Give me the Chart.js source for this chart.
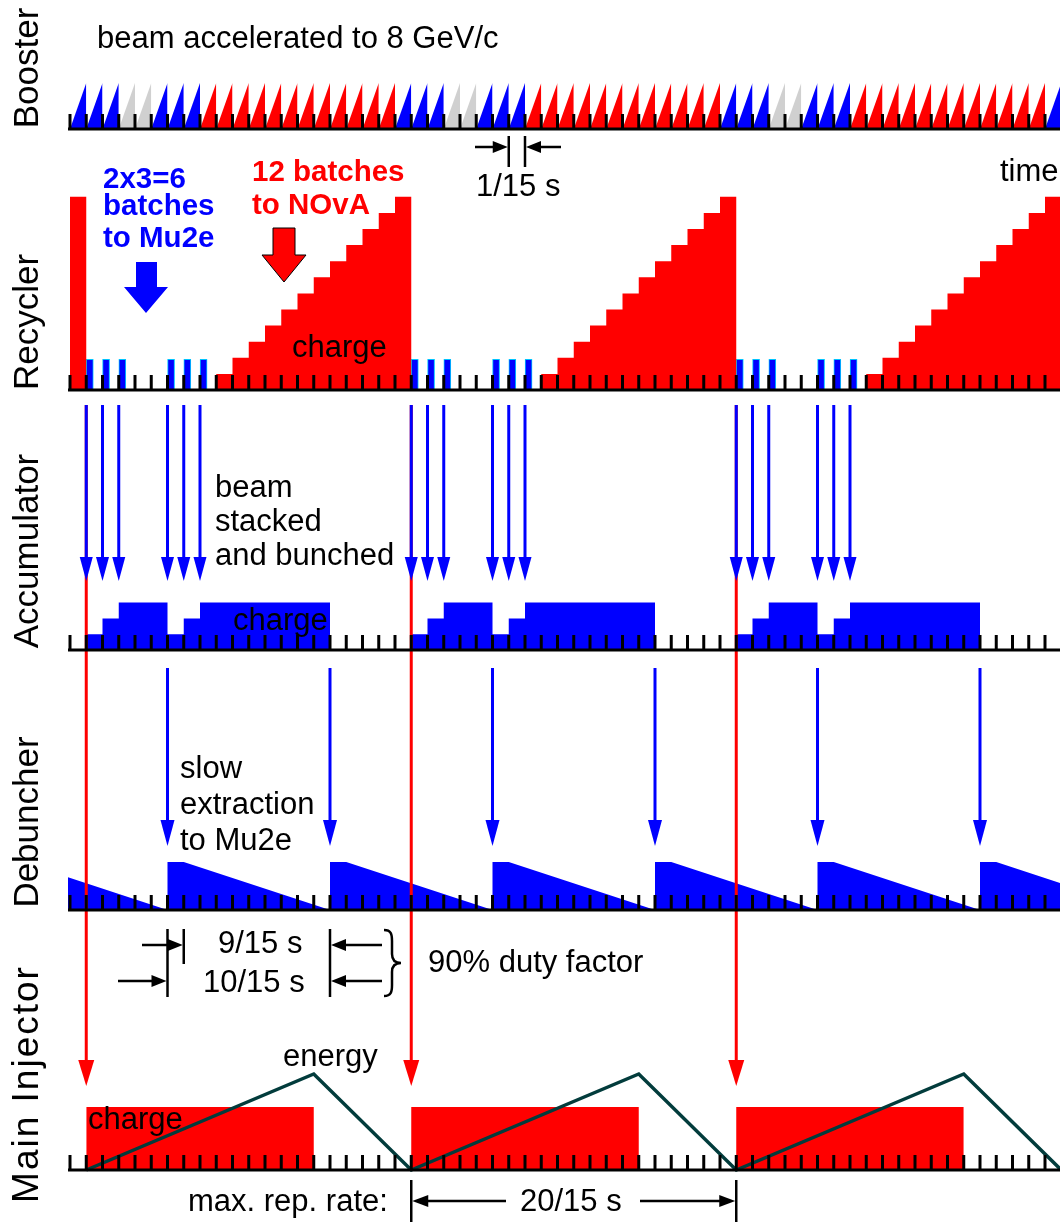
<!DOCTYPE html>
<html>
<head>
<meta charset="utf-8">
<title>Beam timeline: Booster, Recycler, Accumulator, Debuncher, Main Injector</title>
<script src="https://cdn.jsdelivr.net/npm/chart.js@4.4.1/dist/chart.umd.min.js"></script>
<style>
  body { margin: 0; background: #fff; }
  #wrap { position: relative; width: 1060px; height: 1222px; overflow: hidden; }
  #timeline { position: absolute; left: 0; top: 0; }
  .note { position: absolute; font-family: "Liberation Sans", Arial, sans-serif; line-height: 1; white-space: nowrap; color: #000; }
  .row { transform: translate(-50%, -50%) rotate(-90deg); }
</style>
</head>
<body>
<div id="wrap"><canvas id="timeline" width="1060" height="1222"></canvas></div>
<script>
// time is counted in Booster cycles (1/15 s), k = 0 .. 60

// Booster batch type per cycle: M = Mu2e, E = empty, N = NOvA
const boosterBatches = ("MMMEEMMMNNNNNNNNNNNN" + "MMMEEMMMNNNNNNNNNNNN" +
                        "MMMEEMMMNNNNNNNNNNNN" + "M").split("");

// Recycler NOvA charge (batches) held during cycle k
const recyclerNova = [12, 0, 0, 0, 0, 0, 0, 0, 0, 1, 2, 3, 4, 5, 6, 7, 8, 9, 10, 11,
                      12, 0, 0, 0, 0, 0, 0, 0, 0, 1, 2, 3, 4, 5, 6, 7, 8, 9, 10, 11,
                      12, 0, 0, 0, 0, 0, 0, 0, 0, 1, 2, 3, 4, 5, 6, 7, 8, 9, 10, 11,
                      12];
// Mu2e batches passing through the Recycler (cycle) and their drawn height
const mu2eBatches = [1, 2, 3, 6, 7, 8, 21, 22, 23, 26, 27, 28, 41, 42, 43, 46, 47, 48];
const mu2eBatchLevel = 1.9;

// Accumulator charge (batches) during cycle k
const accumulatorCharge = [0, 1, 2, 3, 3, 3, 1, 2, 3, 3, 3, 3, 3, 3, 3, 3, 0, 0, 0, 0,
                           0, 1, 2, 3, 3, 3, 1, 2, 3, 3, 3, 3, 3, 3, 3, 3, 0, 0, 0, 0,
                           0, 1, 2, 3, 3, 3, 1, 2, 3, 3, 3, 3, 3, 3, 3, 3, 0, 0, 0, 0,
                           0];

// Debuncher: transfer from Accumulator, then slow extraction
const debuncherFills = [-4, 6, 16, 26, 36, 46, 56];
const debuncherCharge = 3;
const debuncherFlat = 1;
const debuncherSpill = 10;

// Main Injector: NOvA injection / extraction and energy ramp
const miInject = [1, 21, 41];
const miExtract = [15, 35, 55];
const miCharge = 12;
const miEnergyTime = [1, 15, 21, 35, 41, 55, 61];
const miEnergyGeV = [8, 120, 8, 120, 8, 120, 8];

const BLUE = "#0000ff", RED = "#ff0000", GRAY = "#d0d0d0", DARK = "#023c3c";

// page layout (pixels)
const W = 1060, H = 1222;
const TICK0 = 70, TICK = 16.25, LEFT = 68;
const rowLayout = {
  yB: { base: 129, unit: 46, zero: 0 },
  yR: { base: 390, unit: 16.1, zero: 0 },
  yA: { base: 650, unit: 15.8, zero: 0 },
  yD: { base: 910, unit: 16, zero: 0 },
  yM: { base: 1170, unit: 5.25, zero: 0 },
  yE: { base: 1170, unit: 96 / 112, zero: 8 }
};

function rowScale(r) {
  return { type: "linear", display: false, offset: false,
           min: r.zero - (H - r.base) / r.unit, max: r.zero + r.base / r.unit };
}

function boosterData(type) {
  const pts = [];
  boosterBatches.forEach((b, k) => {
    if (b !== type) return;
    pts.push({ x: k, y: 0 }, { x: k + 1, y: 1 }, { x: k + 1, y: 0 }, { x: k + 1, y: null });
  });
  return pts;
}

function stepData(levels) {
  const pts = levels.map((v, k) => ({ x: k, y: v }));
  pts.push({ x: levels.length, y: levels[levels.length - 1] });
  return pts;
}

function debuncherData() {
  const pts = [];
  debuncherFills.forEach(s => {
    pts.push({ x: s, y: 0 }, { x: s, y: debuncherCharge },
             { x: s + debuncherFlat, y: debuncherCharge }, { x: s + debuncherSpill, y: 0 });
  });
  return pts;
}

function miChargeData() {
  const pts = [];
  miInject.forEach((t, i) => pts.push({ x: t, y: miCharge }, { x: miExtract[i], y: 0 }));
  return pts;
}

const area = (data, color, yAxisID, extra) => Object.assign({
  type: "line", data, yAxisID, backgroundColor: color, borderColor: "rgba(0,0,0,0)",
  borderWidth: 0, pointRadius: 0, fill: "origin", tension: 0, order: 2
}, extra || {});

const datasets = [
  area(boosterData("M"), BLUE, "yB"),
  area(boosterData("E"), GRAY, "yB"),
  area(boosterData("N"), RED, "yB"),
  area(stepData(recyclerNova), RED, "yR", { stepped: "before" }),
  {
    type: "bar", yAxisID: "yR", order: 2, grouped: false,
    data: mu2eBatches.map(k => ({ x: k + 0.22, y: mu2eBatchLevel })),
    backgroundColor: BLUE, borderColor: "#00c4ff", borderWidth: 1, barThickness: 7
  },
  area(stepData(accumulatorCharge), BLUE, "yA", { stepped: "before" }),
  area(debuncherData(), BLUE, "yD"),
  area(miChargeData(), RED, "yM", { stepped: "before" }),
  {
    type: "line", yAxisID: "yE", order: 1, fill: false, pointRadius: 0, tension: 0,
    data: miEnergyTime.map((t, i) => ({ x: t, y: miEnergyGeV[i] })),
    borderColor: DARK, borderWidth: 3.5
  }
];

function arrow(ctx, x0, y0, x1, y1, color, lw, len, half) {
  const d = Math.hypot(x1 - x0, y1 - y0), dx = (x1 - x0) / d, dy = (y1 - y0) / d;
  ctx.strokeStyle = color; ctx.fillStyle = color; ctx.lineWidth = lw;
  ctx.beginPath();
  ctx.moveTo(x0, y0);
  ctx.lineTo(x1 - dx * len * 0.8, y1 - dy * len * 0.8);
  ctx.stroke();
  const bx = x1 - dx * len, by = y1 - dy * len;
  ctx.beginPath();
  ctx.moveTo(x1, y1);
  ctx.lineTo(bx - dy * half, by + dx * half);
  ctx.lineTo(bx + dy * half, by - dx * half);
  ctx.closePath();
  ctx.fill();
}

function line(ctx, x0, y0, x1, y1, lw) {
  ctx.strokeStyle = "#000"; ctx.lineWidth = lw;
  ctx.beginPath(); ctx.moveTo(x0, y0); ctx.lineTo(x1, y1); ctx.stroke();
}

function poly(ctx, pts, fill, stroke) {
  ctx.beginPath();
  pts.forEach((p, i) => i ? ctx.lineTo(p[0], p[1]) : ctx.moveTo(p[0], p[1]));
  ctx.closePath();
  ctx.fillStyle = fill; ctx.fill();
  if (stroke) { ctx.strokeStyle = stroke; ctx.lineWidth = 1; ctx.stroke(); }
}

const overlay = {
  id: "overlay",
  afterDatasetsDraw(chart) {
    const ctx = chart.ctx, x = chart.scales.x, ca = chart.chartArea;
    const px = k => x.getPixelForValue(k);
    ctx.save();
    ctx.lineCap = "butt";

    // transfers between machines
    miInject.forEach(k => arrow(ctx, px(k), 405, px(k), 1086, RED, 3, 26, 8));
    mu2eBatches.forEach(k => arrow(ctx, px(k), 405, px(k), 581, BLUE, 3, 24, 6.5));
    debuncherFills.filter(k => k >= 0).forEach(k => arrow(ctx, px(k), 668, px(k), 846, BLUE, 3, 26, 7));

    // time axes with one tick per Booster cycle
    const ks = [];
    for (let k = Math.ceil(x.min); k <= Math.floor(x.max); k++) ks.push(k);
    ["yB", "yR", "yA", "yD", "yM"].forEach(id => {
      const b = chart.scales[id].getPixelForValue(rowLayout[id].zero);
      line(ctx, ca.left, b, ca.right, b, 3);
      ks.forEach(k => line(ctx, px(k), b, px(k), b - 15, 3));
    });

    // big arrows under the batch captions
    poly(ctx, [[136, 262], [157, 262], [157, 287], [168, 287], [146, 313], [124, 287], [136, 287]], BLUE);
    poly(ctx, [[273, 228], [295, 228], [295, 255], [306, 255], [284, 282], [262, 255], [273, 255]], RED, "#000");

    // 1/15 s
    line(ctx, px(27), 136, px(27), 167, 2.5);
    line(ctx, px(28), 136, px(28), 167, 2.5);
    arrow(ctx, 475, 147, px(27) - 1, 147, "#000", 2.5, 15, 6);
    arrow(ctx, 561, 147, px(28) + 1, 147, "#000", 2.5, 15, 6);

    // 9/15 s and 10/15 s
    line(ctx, px(6), 929, px(6), 997, 2.5);
    line(ctx, px(7), 929, px(7), 964, 2.5);
    line(ctx, px(16), 929, px(16), 997, 2.5);
    arrow(ctx, 142, 945, px(7) - 1, 945, "#000", 2.5, 15, 6);
    arrow(ctx, 118, 981, px(6) - 1, 981, "#000", 2.5, 15, 6);
    arrow(ctx, 382, 945, px(16) + 1, 945, "#000", 2.5, 15, 6);
    arrow(ctx, 382, 981, px(16) + 1, 981, "#000", 2.5, 15, 6);
    ctx.strokeStyle = "#000"; ctx.lineWidth = 2.5;
    ctx.beginPath();
    ctx.moveTo(384, 930);
    ctx.bezierCurveTo(391, 930, 392, 934, 392, 941);
    ctx.lineTo(392, 954);
    ctx.bezierCurveTo(392, 960, 395, 963, 401, 963);
    ctx.bezierCurveTo(395, 963, 392, 966, 392, 972);
    ctx.lineTo(392, 985);
    ctx.bezierCurveTo(392, 992, 391, 996, 384, 996);
    ctx.stroke();

    // 20/15 s
    line(ctx, px(21), 1180, px(21), 1222, 2.5);
    line(ctx, px(41), 1180, px(41), 1222, 2.5);
    arrow(ctx, 506, 1201, px(21) + 1, 1201, "#000", 2.5, 16, 6);
    arrow(ctx, 640, 1201, px(41) - 1, 1201, "#000", 2.5, 16, 6);
    ctx.restore();
  }
};

const scales = {
  x: { type: "linear", display: false, offset: false, grid: { offset: false },
       min: (LEFT - TICK0) / TICK, max: (W - TICK0) / TICK, ticks: { stepSize: 1 } }
};
Object.keys(rowLayout).forEach(id => { scales[id] = rowScale(rowLayout[id]); });

new Chart(document.getElementById("timeline"), {
  type: "line",
  data: { datasets },
  options: {
    responsive: false,
    animation: false,
    events: [],
    layout: { padding: { left: LEFT, right: 0, top: 0, bottom: 0 } },
    plugins: { legend: { display: false }, tooltip: { enabled: false } },
    scales
  },
  plugins: [overlay]
});

// captions, placed by baseline
const notes = [
  { text: "Booster", x: 25, y: 68, size: 35, rot: true },
  { text: "Recycler", x: 25, y: 322, size: 35, rot: true },
  { text: "Accumulator", x: 25, y: 551, size: 35, rot: true },
  { text: "Debuncher", x: 25, y: 822, size: 35, rot: true },
  { text: "Main Injector", x: 25, y: 1084, size: 37, rot: true, spacing: 2 },
  { text: "beam accelerated to 8 GeV/c", x: 97, y: 48 },
  { text: "2x3=6", x: 103, y: 188, color: BLUE, bold: true },
  { text: "batches", x: 103, y: 215, color: BLUE, bold: true },
  { text: "to Mu2e", x: 103, y: 247, color: BLUE, bold: true },
  { text: "12 batches", x: 252, y: 181, color: RED, bold: true },
  { text: "to NOvA", x: 252, y: 214, color: RED, bold: true },
  { text: "1/15 s", x: 476, y: 196 },
  { text: "time", x: 1000, y: 181 },
  { text: "charge", x: 292, y: 357 },
  { text: "beam", x: 215, y: 497 },
  { text: "stacked", x: 215, y: 531 },
  { text: "and bunched", x: 215, y: 565 },
  { text: "charge", x: 233, y: 630 },
  { text: "slow", x: 180, y: 778 },
  { text: "extraction", x: 180, y: 814 },
  { text: "to Mu2e", x: 180, y: 850 },
  { text: "9/15 s", x: 218, y: 953 },
  { text: "10/15 s", x: 203, y: 992 },
  { text: "90% duty factor", x: 428, y: 972 },
  { text: "energy", x: 283, y: 1066 },
  { text: "charge", x: 88, y: 1129 },
  { text: "max. rep. rate:", x: 188, y: 1211 },
  { text: "20/15 s", x: 516, y: 1211, bg: true }
];

const wrap = document.getElementById("wrap");
notes.forEach(n => {
  const el = document.createElement("div");
  const size = n.size || (n.bold ? 29.5 : 31);
  el.className = "note" + (n.rot ? " row" : "");
  el.textContent = n.text;
  el.style.fontSize = size + "px";
  el.style.color = n.color || "#000";
  if (n.bold) el.style.fontWeight = "bold";
  if (n.spacing) el.style.letterSpacing = n.spacing + "px";
  if (n.bg) { el.style.background = "#fff"; el.style.padding = "0 4px"; }
  el.style.left = n.x + "px";
  el.style.top = (n.rot ? n.y : n.y - 0.8465 * size) + "px";
  wrap.appendChild(el);
});
</script>
</body>
</html>
